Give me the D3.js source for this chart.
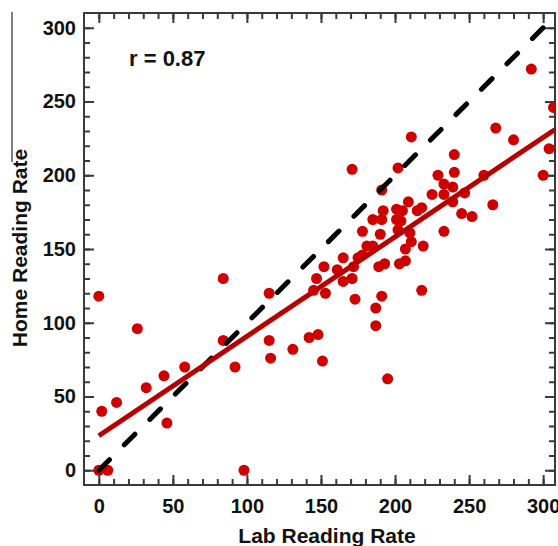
<!DOCTYPE html>
<html>
<head>
<meta charset="utf-8">
<script src="https://cdn.jsdelivr.net/npm/d3@7"></script>
<style>
  body { margin: 0; background: #fff; }
  svg { display: block; font-family: "Liberation Sans", Arial, Helvetica, sans-serif; font-weight: bold; }
</style>
</head>
<body>
<script>
// data: lab rate (x) and home rate (y) for each reader
var labRate = [0, 2, 0, 6, 12, 26, 32, 44, 46, 58,
  84, 84, 92, 98, 115, 115, 116, 131, 142, 148,
  151, 147, 145, 153, 165, 171, 173, 187, 187, 191,
  195, 218, 152, 161, 165, 172, 175, 178, 181, 185,
  189, 193, 203, 207, 207, 211, 219, 178, 190, 202,
  210, 185, 191, 201, 204, 192, 201, 205, 215, 218,
  209, 191, 171, 202, 211, 225, 233, 229, 233, 239,
  240, 240, 239, 247, 245, 252, 233, 260, 266, 268,
  280, 292, 300, 304, 307];
var homeRate = [118, 40, 0, 0, 46, 96, 56, 64, 32, 70,
  130, 88, 70, 0, 120, 88, 76, 82, 90, 92,
  74, 130, 122, 120, 128, 130, 116, 110, 98, 118,
  62, 122, 138, 136, 144, 138, 144, 146, 152, 152,
  138, 140, 140, 142, 150, 155, 152, 162, 160, 163,
  161, 170, 170, 170, 169, 176, 177, 176, 176, 178,
  182, 190, 204, 205, 226, 187, 187, 200, 194, 192,
  202, 214, 182, 188, 174, 172, 162, 200, 180, 232,
  224, 272, 200, 218, 246];

var majorTicks = [0, 50, 100, 150, 200, 250, 300];
var minorTicks = d3.range(0, 301, 10);

// fitted line and correlation as printed
var fitIntercept = 23.4, fitSlope = 0.674;
var rLabel = "r = 0.87";

var width = 558, height = 546;
var m = { left: 84, top: 13, right: 555, bottom: 485 };

var svg = d3.select("body").append("svg")
    .attr("width", width)
    .attr("height", height);

var x = d3.scaleLinear().domain([-10, 308]).range([m.left, m.right]);
var y = d3.scaleLinear().domain([-10, 310]).range([m.bottom, m.top]);

// clip for the marks
svg.append("clipPath").attr("id", "plot")
  .append("rect")
    .attr("x", m.left).attr("y", m.top)
    .attr("width", m.right - m.left).attr("height", m.bottom - m.top);

/* ticks on all four sides, pointing inwards */
function ticks(axis, tr, size, pad, labels) {
    var g = svg.append("g")
        .attr("transform", tr)
        .call(axis.tickValues(size > 6 ? majorTicks : minorTicks)
            .tickSize(-size)
            .tickPadding(pad)
            .tickFormat(labels ? d3.format("d") : ""));
    g.select(".domain").remove();
    g.selectAll(".tick line").attr("stroke", "#3a3a3a").attr("stroke-width", 2);
    g.selectAll(".tick text")
        .attr("fill", "#111")
        .attr("font-size", 20);
    return g;
}

ticks(d3.axisBottom(x), `translate(0,${m.bottom})`, 6, 0, false);
ticks(d3.axisBottom(x), `translate(0,${m.bottom})`, 10, 14, true);
ticks(d3.axisTop(x), `translate(0,${m.top})`, 6, 0, false);
ticks(d3.axisTop(x), `translate(0,${m.top})`, 10, 0, false);
ticks(d3.axisLeft(y), `translate(${m.left},0)`, 6, 0, false);
ticks(d3.axisLeft(y), `translate(${m.left},0)`, 10, 8, true);
ticks(d3.axisRight(y), `translate(${m.right},0)`, 6, 0, false);
ticks(d3.axisRight(y), `translate(${m.right},0)`, 10, 0, false);

// frame
svg.append("rect")
    .attr("x", m.left).attr("y", m.top)
    .attr("width", m.right - m.left).attr("height", m.bottom - m.top)
    .attr("fill", "none")
    .attr("stroke", "#3a3a3a")
    .attr("stroke-width", 2);

var plot = svg.append("g").attr("clip-path", "url(#plot)");

// points
plot.append("g")
    .attr("fill", "#cf0000")
    .selectAll("circle")
    .data(d3.range(labRate.length))
    .join("circle")
    .attr("cx", i => x(labRate[i]))
    .attr("cy", i => y(homeRate[i]))
    .attr("r", 5.5);

// identity line
plot.append("line")
    .attr("x1", x(0)).attr("y1", y(0))
    .attr("x2", x(310)).attr("y2", y(310))
    .attr("stroke", "#000")
    .attr("stroke-width", 5)
    .attr("stroke-linecap", "round")
    .attr("stroke-dasharray", "15,21");

// regression line
plot.append("line")
    .attr("x1", x(0)).attr("y1", y(fitIntercept))
    .attr("x2", x(308)).attr("y2", y(fitIntercept + fitSlope * 308))
    .attr("stroke", "#b80000")
    .attr("stroke-width", 5);

svg.append("text")
    .attr("x", 129).attr("y", 66)
    .attr("font-size", 22)
    .attr("fill", "#111")
    .text(rLabel);

svg.append("text")
    .attr("x", 327).attr("y", 543)
    .attr("text-anchor", "middle")
    .attr("font-size", 21)
    .attr("fill", "#111")
    .text("Lab Reading Rate");

svg.append("text")
    .attr("transform", "translate(27,248) rotate(-90)")
    .attr("text-anchor", "middle")
    .attr("font-size", 21)
    .attr("fill", "#111")
    .text("Home Reading Rate");

// stray thin rule at the far left
svg.append("line")
    .attr("x1", 12).attr("y1", 12)
    .attr("x2", 12).attr("y2", 162)
    .attr("stroke", "#000")
    .attr("stroke-width", 1);
</script>
</body>
</html>
